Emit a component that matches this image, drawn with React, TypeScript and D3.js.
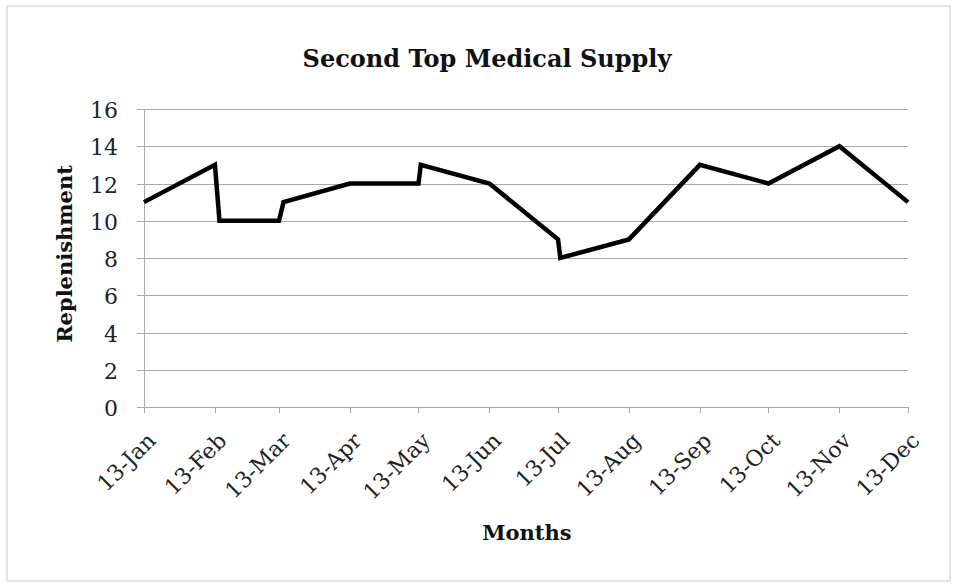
import React from "react";
import * as d3 from "d3";

// Replenishment counts recorded through 2013 (same-day steps are logged a day or two apart)
const dates = [
  "2013-01-01", "2013-02-01", "2013-02-03", "2013-03-01", "2013-03-03",
  "2013-04-01", "2013-05-01", "2013-05-02", "2013-06-01", "2013-07-01",
  "2013-07-02", "2013-08-01", "2013-09-01", "2013-10-01", "2013-11-01",
  "2013-12-01",
];
const values = [11, 13, 10, 10, 11, 12, 12, 13, 12, 9, 8, 9, 13, 12, 14, 11];

const tickLabels = [
  "13-Jan", "13-Feb", "13-Mar", "13-Apr", "13-May", "13-Jun",
  "13-Jul", "13-Aug", "13-Sep", "13-Oct", "13-Nov", "13-Dec",
];
const yTicks = [0, 2, 4, 6, 8, 10, 12, 14, 16];

const W = 955;
const H = 585;
const FONT = "'DejaVu Serif', Cambria, serif";

export default function App() {
  const parse = d3.timeParse("%Y-%m-%d");
  const points = dates.map((d, i) => ({ date: parse(d) as Date, value: values[i] }));

  const x = d3
    .scaleTime()
    .domain([parse("2013-01-01") as Date, parse("2013-12-01") as Date])
    .range([144, 908]);
  const y = d3.scaleLinear().domain([0, 16]).range([407, 109]);

  const monthTicks = d3.timeMonth.range(
    parse("2013-01-01") as Date,
    d3.timeDay.offset(parse("2013-12-01") as Date, 1)
  );

  const line = d3
    .line<{ date: Date; value: number }>()
    .x((d) => x(d.date))
    .y((d) => y(d.value));

  const grid = "#a9a9a9";

  return (
    <svg
      width={W}
      height={H}
      style={{ position: "absolute", left: 0, top: 0, background: "#fff" }}
    >
      <rect x={7} y={6} width={943} height={575} fill="#fff" stroke="#dcdcdc" strokeWidth={1.5} />

      <text
        x={487}
        y={67}
        textAnchor="middle"
        fontFamily={FONT}
        fontWeight="bold"
        fontSize={24}
        fill="#111"
      >
        Second Top Medical Supply
      </text>

      {/* horizontal gridlines with outside ticks */}
      {yTicks.map((t) => (
        <line
          key={"g" + t}
          x1={137}
          x2={x.range()[1]}
          y1={Math.round(y(t)) + 0.5}
          y2={Math.round(y(t)) + 0.5}
          stroke={grid}
          strokeWidth={1}
        />
      ))}
      {yTicks.map((t) => (
        <text
          key={"yl" + t}
          x={118}
          y={y(t) + 9}
          textAnchor="end"
          fontFamily={FONT}
          fontSize={22}
          fill="#222"
        >
          {t}
        </text>
      ))}

      {/* vertical axis */}
      <line x1={144.5} x2={144.5} y1={y(16)} y2={y(0)} stroke={grid} strokeWidth={1} />

      {/* x tick marks and rotated labels */}
      {monthTicks.map((m, i) => (
        <g key={"xt" + i}>
          <line
            x1={Math.round(x(m)) + 0.5}
            x2={Math.round(x(m)) + 0.5}
            y1={y(0)}
            y2={y(0) + 6}
            stroke={grid}
          />
          <text
            transform={`translate(${x(m) + 13},${442}) rotate(-45)`}
            textAnchor="end"
            fontFamily={FONT}
            fontSize={22}
            fill="#222"
          >
            {tickLabels[i]}
          </text>
        </g>
      ))}

      <path
        d={line(points) || ""}
        fill="none"
        stroke="#000"
        strokeWidth={4.5}
        strokeLinejoin="miter"
        strokeMiterlimit={4}
      />

      <text
        transform={`translate(72,254) rotate(-90)`}
        textAnchor="middle"
        fontFamily={FONT}
        fontWeight="bold"
        fontSize={21}
        fill="#111"
      >
        Replenishment
      </text>
      <text
        x={527}
        y={540}
        textAnchor="middle"
        fontFamily={FONT}
        fontWeight="bold"
        fontSize={21}
        fill="#111"
      >
        Months
      </text>
    </svg>
  );
}
